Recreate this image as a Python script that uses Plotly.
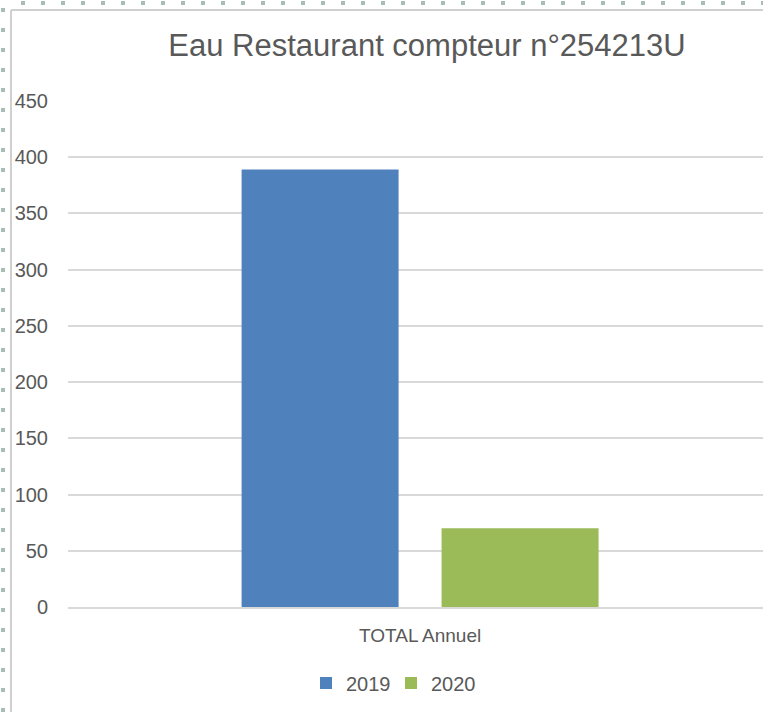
import plotly.graph_objects as go

# data
categories = ["TOTAL Annuel"]
years = ["2019", "2020"]
values_2019 = [389]
values_2020 = [70]
colors = ["#4f81bd", "#9bbb59"]

W, H = 763, 712
ml, mt, mb = 68, 101, 105

fig = go.Figure()
for name, vals, col in zip(years, [values_2019, values_2020], colors):
    fig.add_trace(go.Bar(x=categories, y=vals, name=name, marker_color=col,
                         marker_line_width=0))

font = "Liberation Sans, Arial, sans-serif"
fig.update_layout(
    width=W, height=H,
    margin=dict(l=ml, r=0, t=mt, b=mb),
    paper_bgcolor="white", plot_bgcolor="white",
    barmode="group", bargap=0.432, bargroupgap=0.215,
    title=dict(text="Eau Restaurant compteur n°254213U", x=427 / W, xanchor="center",
               y=1 - 45 / H, yanchor="middle", yref="container",
               font=dict(family=font, size=31, color="#595959")),
    font=dict(family=font, color="#595959"),
    showlegend=True,
    legend=dict(orientation="h", x=391 / W, xanchor="center", xref="container",
                y=1 - 683 / H, yanchor="middle", yref="container",
                font=dict(size=20, color="#595959"), itemwidth=30,
                entrywidth=40, traceorder="normal"),
)
fig.update_yaxes(range=[0, 450], dtick=50, showgrid=True, gridcolor="#d9d9d9", gridwidth=1.5,
                 zeroline=False, showline=False, tickfont=dict(size=20, color="#595959"),
                 ticklabelstandoff=19)
fig.update_xaxes(range=[-0.5, 0.487], showline=True, linecolor="#d9d9d9", linewidth=1.5,
                 tickfont=dict(size=19, color="#595959"), ticklabelstandoff=10)

# chart frame and selection handles of the spreadsheet
pw = W - ml
ph = H - mt - mb
fx = lambda px: (px - ml) / pw
fy = lambda py: (H - mb - py) / ph
fig.add_shape(type="line", xref="paper", yref="paper", x0=fx(11), x1=fx(W + 5), y0=fy(10), y1=fy(10),
              line=dict(color="#d0d0d0", width=2))
fig.add_shape(type="line", xref="paper", yref="paper", x0=fx(11), x1=fx(11), y0=fy(10), y1=fy(H + 5),
              line=dict(color="#d0d0d0", width=2))
fig.add_shape(type="line", xref="paper", yref="paper", x0=fx(21), x1=fx(W + 5), y0=fy(3), y1=fy(3),
              line=dict(color="#a8bdb6", width=4, dash="4px,16px"))
fig.add_shape(type="line", xref="paper", yref="paper", x0=fx(3), x1=fx(3), y0=fy(8), y1=fy(H + 5),
              line=dict(color="#a8bdb6", width=4, dash="4px,16px"))

# the page body has a default 8px margin; drop it so the chart fills the window
fig.write_html("out.html", config={"displayModeBar": False},
               post_script="document.body.style.margin='0';")
